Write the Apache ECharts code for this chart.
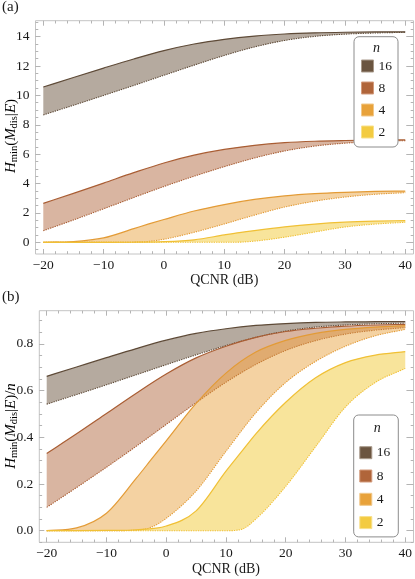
<!DOCTYPE html>
<html><head><meta charset="utf-8">
<script src="https://cdn.jsdelivr.net/npm/echarts@6/dist/echarts.min.js"></script>
<style>html,body{margin:0;padding:0;background:#fff}#c{width:415px;height:579px}</style>
</head><body><div id="c"></div>
<script>
// ---------- data ----------
const nValues = ['16', '8', '4', '2'];
const qcnr  = [-20, -15, -10, -5, 0, 5, 10, 15, 20, 25, 30, 35, 40];
const qcnr4 = [-20, -15, -10, -5, -2.5, 0, 5, 10, 15, 20, 25, 30, 35, 40];
const qcnr2 = [-20, -15, -10, -5, 0, 5, 10, 12.5, 15, 20, 25, 30, 35, 40];

// panel (a): Hmin(Mdis|E)
const a16Upper = [10.57, 11.22, 11.86, 12.48, 13.05, 13.50, 13.82, 14.04, 14.18, 14.26, 14.30, 14.32, 14.33];
const a16Lower = [8.67, 9.33, 10.00, 10.68, 11.37, 12.06, 12.72, 13.30, 13.74, 14.02, 14.17, 14.25, 14.29];
const a8Upper  = [2.65, 3.33, 4.03, 4.74, 5.40, 5.93, 6.32, 6.60, 6.78, 6.88, 6.93, 6.96, 6.97];
const a8Lower  = [0.79, 1.52, 2.28, 3.05, 3.80, 4.50, 5.15, 5.74, 6.22, 6.55, 6.75, 6.86, 6.92];
const a4Upper  = [0.00, 0.05, 0.30, 0.93, 1.25, 1.55, 2.13, 2.57, 2.92, 3.16, 3.31, 3.40, 3.46, 3.49];
const a4Lower  = [0, 0, 0, 0.01, 0.06, 0.21, 0.68, 1.25, 1.85, 2.40, 2.80, 3.08, 3.27, 3.38];
const a2Upper  = [0, 0, 0, 0.005, 0.04, 0.17, 0.50, 0.66, 0.80, 1.05, 1.24, 1.37, 1.44, 1.48];
const a2Lower  = [0, 0, 0, 0, 0, 0, 0, 0.01, 0.08, 0.35, 0.70, 1.04, 1.24, 1.36];

// panel (b): Hmin(Mdis|E)/n
const b16Upper = [0.661, 0.701, 0.741, 0.780, 0.816, 0.845, 0.865, 0.879, 0.887, 0.892, 0.894, 0.895, 0.896];
const b16Lower = [0.542, 0.583, 0.625, 0.668, 0.711, 0.753, 0.793, 0.828, 0.855, 0.872, 0.881, 0.886, 0.889];
const b8Upper  = [0.331, 0.415, 0.502, 0.589, 0.671, 0.740, 0.790, 0.828, 0.853, 0.867, 0.876, 0.881, 0.884];
const b8Lower  = [0.100, 0.185, 0.272, 0.362, 0.455, 0.548, 0.636, 0.712, 0.772, 0.814, 0.842, 0.859, 0.870];
const b4Upper  = [0.000, 0.012, 0.075, 0.225, 0.305, 0.385, 0.545, 0.675, 0.765, 0.815, 0.845, 0.862, 0.872, 0.878];
const b4Lower  = [0, 0, 0, 0.002, 0.015, 0.053, 0.170, 0.340, 0.505, 0.635, 0.725, 0.790, 0.835, 0.862];
const b2Upper  = [0, 0, 0.001, 0.004, 0.02, 0.085, 0.255, 0.335, 0.415, 0.55, 0.655, 0.72, 0.752, 0.767];
const b2Lower  = [0, 0, 0, 0, 0, 0, 0, 0.005, 0.05, 0.19, 0.36, 0.53, 0.635, 0.695];

// tick labels
const xTicks  = [-20, -10, 0, 10, 20, 30, 40];
const yTicksA = [0, 2, 4, 6, 8, 10, 12, 14];
const yTicksB = [0.0, 0.2, 0.4, 0.6, 0.8];

// ---------- style ----------
const SERIF = 'Liberation Serif';
const lineColor = {'16': '#5e4a37', '8': '#a95d33', '4': '#e39b36', '2': '#f0c035'};
const fillColor = {'16': 'rgba(107,85,64,0.5)', '8': 'rgba(176,101,58,0.48)', '4': 'rgba(232,160,58,0.47)', '2': 'rgba(242,204,64,0.52)'};
const swatch = {'16': '#6b5540', '8': '#b0653a', '4': '#e8a23a', '2': '#f3cb41'};
const swatchBorder = {'16': '#a8998a', '8': '#d39b7c', '4': '#f1c88a', '2': '#f8e08a'};
const frameColor = '#c4c4c4';
const tickColor = '#b4b4b4';
const labelColor = '#1a1a1a';

function minusFmt(v) { return String(v).replace('-', '\u2212'); }

// monotone cubic (Fritsch-Carlson) bezier control points through pixel points
function controls(p) {
  const n = p.length, d = [], m = [];
  for (let i = 0; i < n - 1; i++) d.push((p[i + 1][1] - p[i][1]) / (p[i + 1][0] - p[i][0]));
  m[0] = d[0]; m[n - 1] = d[n - 2];
  for (let i = 1; i < n - 1; i++) m[i] = (d[i - 1] * d[i] <= 0) ? 0 : (d[i - 1] + d[i]) / 2;
  for (let i = 0; i < n - 1; i++) {
    if (Math.abs(d[i]) < 1e-9) { m[i] = 0; m[i + 1] = 0; continue; }
    const a = m[i] / d[i], b = m[i + 1] / d[i], s = a * a + b * b;
    if (s > 9) { const t = 3 / Math.sqrt(s); m[i] = t * a * d[i]; m[i + 1] = t * b * d[i]; }
  }
  const segs = [];
  for (let i = 0; i < n - 1; i++) {
    const h = p[i + 1][0] - p[i][0];
    segs.push([[p[i][0] + h / 3, p[i][1] + m[i] * h / 3], [p[i + 1][0] - h / 3, p[i + 1][1] - m[i + 1] * h / 3]]);
  }
  return segs;
}
function fwd(p, segs) {
  let s = '';
  for (let i = 0; i < segs.length; i++) {
    s += ' C' + segs[i][0][0] + ' ' + segs[i][0][1] + ' ' + segs[i][1][0] + ' ' + segs[i][1][1] + ' ' + p[i + 1][0] + ' ' + p[i + 1][1];
  }
  return s;
}
function rev(p, segs) {
  let s = '';
  for (let i = segs.length - 1; i >= 0; i--) {
    s += ' C' + segs[i][1][0] + ' ' + segs[i][1][1] + ' ' + segs[i][0][0] + ' ' + segs[i][0][1] + ' ' + p[i][0] + ' ' + p[i][1];
  }
  return s;
}

function band(name, xs, upper, lower, xi, yi) {
  return {
    type: 'custom', name: name, xAxisIndex: xi, yAxisIndex: yi,
    data: xs.map((x, i) => [x, upper[i], lower[i]]),
    encode: {x: 0, y: [1, 2]},
    itemStyle: {color: swatch[name]},
    silent: true, animation: false, clip: false,
    renderItem: function (params, api) {
      if (params.dataIndex !== 0) return null;
      const n = params.dataInsideLength;
      const up = [], lo = [];
      for (let j = 0; j < n; j++) {
        up.push(api.coord([api.value(0, j), api.value(1, j)]));
        lo.push(api.coord([api.value(0, j), api.value(2, j)]));
      }
      const su = controls(up), sl = controls(lo);
      const upPath = 'M' + up[0][0] + ' ' + up[0][1] + fwd(up, su);
      const loPath = 'M' + lo[0][0] + ' ' + lo[0][1] + fwd(lo, sl);
      const fillPath = upPath + ' L' + lo[n - 1][0] + ' ' + lo[n - 1][1] + rev(lo, sl) + ' Z';
      return {
        type: 'group', children: [
          {type: 'path', shape: {pathData: fillPath}, style: {fill: fillColor[name], stroke: null}},
          {type: 'path', shape: {pathData: loPath}, style: {fill: null, stroke: lineColor[name], lineWidth: 1.1, lineDash: [1.3, 1.1]}},
          {type: 'path', shape: {pathData: upPath}, style: {fill: null, stroke: lineColor[name], lineWidth: 1.2}}
        ]
      };
    }
  };
}

// ---------- layout (pixels) ----------
const FA = {left: 35.5, top: 20.7, width: 378, height: 233.3};
const DA = {left: 43.3, top: 36.64, width: 364.2, height: 205.66};
const MA = {left: 43.3, top: 21.95, width: 364.2, height: 227.7};
const FB = {left: 39.3, top: 310.7, width: 374.2, height: 231.6};
const DB = {left: 46.7, top: 343.9, width: 360.6, height: 186.8};
const MB = {left: 46.7, top: 320.55, width: 360.6, height: 221.8};

function g(r, show) {
  return Object.assign({show: !!show, borderColor: frameColor, borderWidth: 1, backgroundColor: 'transparent'}, r);
}
const hidden = (gi) => ({gridIndex: gi, type: 'value', show: false, min: 0, max: 1});
const labelStyle = {color: labelColor, fontFamily: SERIF, fontSize: 13.5};
const noLine = {show: false, onZero: false};

function xMain(gi, pos, offset, withLabel, nameGap) {
  return {
    gridIndex: gi, type: 'value', position: pos, offset: offset,
    min: xTicks[0], max: xTicks[xTicks.length - 1], interval: xTicks[1] - xTicks[0],
    axisLine: noLine,
    axisTick: {show: true, inside: true, length: 5, lineStyle: {color: tickColor, width: 1}},
    minorTick: {show: true, splitNumber: 5, length: 2.8, lineStyle: {color: tickColor, width: 1}},
    splitLine: {show: false},
    axisLabel: withLabel ? Object.assign({margin: 4, formatter: minusFmt}, labelStyle) : {show: false},
    name: withLabel ? 'QCNR (dB)' : '', nameLocation: 'middle', nameGap: nameGap || 0,
    nameTextStyle: {color: labelColor, fontFamily: SERIF, fontSize: 14}
  };
}
function yMain(gi, pos, offset, ticks, withLabel, fmt) {
  return {
    gridIndex: gi, type: 'value', position: pos, offset: offset,
    min: ticks[0], max: ticks[ticks.length - 1], interval: +(ticks[1] - ticks[0]).toFixed(6),
    axisLine: noLine,
    axisTick: {show: true, inside: true, length: 5, lineStyle: {color: tickColor, width: 1}},
    splitLine: {show: false},
    axisLabel: withLabel ? Object.assign({margin: 6, formatter: fmt}, labelStyle) : {show: false}
  };
}
function yMinor(gi, pos, offset, min, max, step) {
  return {
    gridIndex: gi, type: 'value', position: pos, offset: offset,
    min: min, max: max, interval: step,
    axisLine: noLine,
    axisTick: {show: true, inside: true, length: 2.8, lineStyle: {color: tickColor, width: 1}},
    splitLine: {show: false}, axisLabel: {show: false}
  };
}

const series = [
  band('16', qcnr, a16Upper, a16Lower, 1, 1),
  band('8', qcnr, a8Upper, a8Lower, 1, 1),
  band('4', qcnr4, a4Upper, a4Lower, 1, 1),
  band('2', qcnr2, a2Upper, a2Lower, 1, 1),
  band('16', qcnr, b16Upper, b16Lower, 5, 6),
  band('8', qcnr, b8Upper, b8Lower, 5, 6),
  band('4', qcnr4, b4Upper, b4Lower, 5, 6),
  band('2', qcnr2, b2Upper, b2Lower, 5, 6)
];

function legendCfg(left, top, padding, gap) {
  return {
    left: left, top: top, orient: 'vertical', icon: 'rect', selectedMode: false, z: 4,
    itemWidth: 12, itemHeight: 12, itemGap: gap, itemTextGap: 7, padding: padding,
    borderColor: '#8c8c8c', borderWidth: 1, borderRadius: 5, backgroundColor: '#fff',
    textStyle: {color: labelColor, fontFamily: SERIF, fontSize: 13.5, lineHeight: 12},
    data: nValues.map(n => ({name: n, itemStyle: {color: swatch[n], borderColor: swatchBorder[n], borderWidth: 1}}))
  };
}

const rich = {
  i: {fontFamily: SERIF, fontStyle: 'italic', fontSize: 15, lineHeight: 18, color: labelColor},
  r: {fontFamily: SERIF, fontSize: 15, lineHeight: 18, color: labelColor},
  s: {fontFamily: SERIF, fontSize: 10.5, lineHeight: 10, verticalAlign: 'bottom', color: labelColor}
};

const option = {
  animation: false,
  backgroundColor: '#fff',
  grid: [g(FA, true), g(DA), g(MA), g(FB, true), g(DB), g(MB)],
  xAxis: [
    hidden(0),
    xMain(1, 'bottom', 11.7, true, 17.5),
    xMain(1, 'top', 15.94, false),
    hidden(2),
    hidden(3),
    xMain(4, 'bottom', 11.6, true, 19.7),
    xMain(4, 'top', 33.2, false),
    hidden(5)
  ],
  yAxis: [
    hidden(0),
    yMain(1, 'left', 7.8, yTicksA, true, minusFmt),
    yMain(1, 'right', 6.0, yTicksA, false),
    yMinor(2, 'left', 7.8, -0.5, 15, 0.5),
    yMinor(2, 'right', 6.0, -0.5, 15, 0.5),
    hidden(3),
    yMain(4, 'left', 7.4, yTicksB, true, v => v.toFixed(1)),
    yMain(4, 'right', 6.2, yTicksB, false),
    yMinor(5, 'left', 7.4, -0.05, 0.9, 0.05),
    yMinor(5, 'right', 6.2, -0.05, 0.9, 0.05)
  ],
  legend: [
    legendCfg(354, 36.7, [22.3, 6, 8, 7], 8),
    legendCfg(353.7, 415, [30.7, 8, 7.3, 5.6], 9.3)
  ],
  series: series,
  graphic: {
    elements: [
      {type: 'text', left: 2, top: 0, z: 50, style: {text: '(a)', fontFamily: SERIF, fontSize: 15, fill: labelColor}},
      {type: 'text', left: 2, top: 290, z: 50, style: {text: '(b)', fontFamily: SERIF, fontSize: 15, fill: labelColor}},
      {type: 'text', x: 376.5, y: 48.3, z: 50, style: {text: 'n', align: 'center', verticalAlign: 'middle', fontFamily: SERIF, fontStyle: 'italic', fontSize: 14, fill: labelColor}},
      {type: 'text', x: 377.3, y: 428, z: 50, style: {text: 'n', align: 'center', verticalAlign: 'middle', fontFamily: SERIF, fontStyle: 'italic', fontSize: 14, fill: labelColor}},
      {type: 'text', x: 11, y: 136, rotation: Math.PI / 2, z: 50,
        style: {text: '{i|H}{s|min}{r|(}{i|M}{s|dis}{r||}{i|E}{r|)}', rich: rich, align: 'center', verticalAlign: 'middle'}},
      {type: 'text', x: 11, y: 426, rotation: Math.PI / 2, z: 50,
        style: {text: '{i|H}{s|min}{r|(}{i|M}{s|dis}{r||}{i|E}{r|)/}{i|n}', rich: rich, align: 'center', verticalAlign: 'middle'}}
    ]
  }
};

const chart = echarts.init(document.getElementById('c'), null, {renderer: 'canvas'});
chart.setOption(option);
</script>
</body></html>
